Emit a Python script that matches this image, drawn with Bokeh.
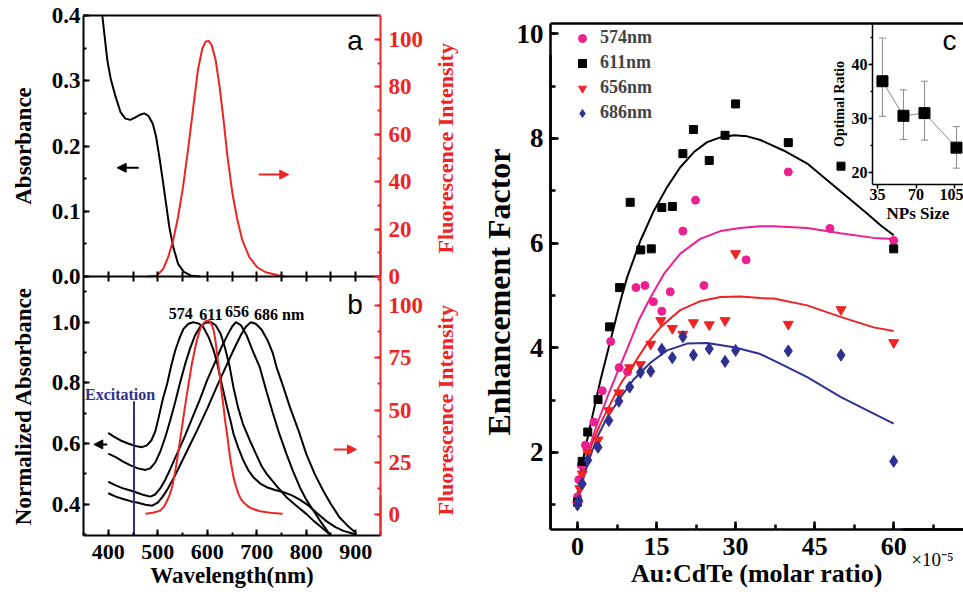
import math
from bokeh.plotting import figure
from bokeh.models import (Range1d, LinearAxis, SingleIntervalTicker, FixedTicker, PrintfTickFormatter,
                          Label, Arrow, NormalHead, Legend, LegendItem, Whisker, TeeHead,
                          ColumnDataSource)
from bokeh.layouts import row
from bokeh.embed import file_html
from bokeh.resources import INLINE

SERIF = "Liberation Serif"
SANS = "Liberation Sans"
RED = "#ee2424"
MAGENTA = "#ec2090"
BLUE = "#2e3192"

# ---------------- panel a data ----------------
a_abs_nm = [388, 392.7, 398, 404.7, 414.7, 424.7, 434.7, 444.7, 454.7, 464.7, 472.7, 481.3, 490,
            496.7, 503.3, 510, 516.7, 523.3, 531.3, 541.3, 552.7, 568, 585]
a_abs = [0.40, 0.368, 0.332, 0.304, 0.276, 0.252, 0.242, 0.240, 0.244, 0.248, 0.25, 0.246, 0.234,
         0.214, 0.183, 0.148, 0.112, 0.076, 0.045, 0.019, 0.007, 0.001, 0.0]
a_fl_nm = [478, 498, 511, 521, 531, 541, 551, 561, 571, 581, 590, 597, 603, 609, 617, 625, 633,
           641, 651, 661, 671, 685, 701, 718, 745, 758]
a_fl = [0, 0.3, 3.2, 8.2, 15.2, 25.1, 37.7, 53.2, 70.1, 87.0, 96.2, 99.2, 99.4, 97.6, 91.3, 80.0,
        65.9, 50.4, 34.9, 23.7, 15.2, 8.2, 3.9, 1.8, 0.4, 0]

# ---------------- panel b data ----------------
b574_nm = [400, 412, 425, 440, 455, 468, 478, 487, 495, 502, 510, 519, 527, 535, 544, 552, 562, 572,
           582, 592, 603, 613, 620, 626, 633, 640, 647, 653, 663, 673, 683, 693, 707, 720, 737, 753,
           770, 787, 805, 822, 840, 858, 875, 890, 900]
b574 = [0.635, 0.622, 0.61, 0.60, 0.592, 0.588, 0.594, 0.61, 0.64, 0.687, 0.745, 0.797, 0.855,
        0.905, 0.948, 0.978, 0.995, 1.0, 0.996, 0.984, 0.95, 0.907, 0.865, 0.819, 0.77, 0.72, 0.675,
        0.632, 0.585, 0.544, 0.512, 0.489, 0.468, 0.456, 0.447, 0.44, 0.43, 0.415, 0.395, 0.37,
        0.345, 0.325, 0.312, 0.305, 0.30]
b611_nm = [400, 415, 430, 445, 460, 475, 485, 495, 505, 515, 525, 535, 545, 555, 565, 575, 585, 596,
           607, 617, 627, 636, 645, 653, 662, 672, 686, 700, 710, 720, 740, 760, 780, 800, 815, 830,
           848]
b611 = [0.567, 0.555, 0.54, 0.528, 0.518, 0.513, 0.518, 0.538, 0.573, 0.62, 0.675, 0.735, 0.80,
        0.86, 0.912, 0.955, 0.983, 0.998, 1.0, 0.99, 0.962, 0.915, 0.855, 0.785, 0.72, 0.665, 0.61,
        0.56, 0.525, 0.50, 0.46, 0.423, 0.395, 0.368, 0.345, 0.325, 0.30]
b656_nm = [400, 415, 430, 445, 460, 472, 485, 495, 505, 515, 525, 540, 555, 570, 585, 600, 615, 628,
           640, 650, 658, 668, 680, 692, 706, 720, 733, 746, 760, 773, 787, 800, 814, 830, 848]
b656 = [0.474, 0.462, 0.452, 0.445, 0.437, 0.43, 0.425, 0.432, 0.452, 0.48, 0.515, 0.57, 0.625,
        0.685, 0.745, 0.81, 0.865, 0.915, 0.955, 0.985, 1.0, 0.99, 0.955, 0.905, 0.852, 0.77, 0.698,
        0.63, 0.566, 0.51, 0.456, 0.415, 0.38, 0.34, 0.30]
b686_nm = [400, 415, 430, 445, 460, 475, 489, 500, 510, 520, 535, 550, 565, 580, 600, 620, 640, 655,
           668, 678, 688, 698, 710, 722, 732, 740, 753, 767, 785, 800, 817, 834, 850, 867, 883, 898]
b686 = [0.436, 0.425, 0.417, 0.41, 0.405, 0.398, 0.395, 0.405, 0.425, 0.45, 0.495, 0.545, 0.595,
        0.645, 0.715, 0.79, 0.862, 0.915, 0.958, 0.985, 1.0, 0.995, 0.975, 0.94, 0.90, 0.852, 0.79,
        0.72, 0.64, 0.566, 0.50, 0.445, 0.40, 0.357, 0.33, 0.308]
b_fl_nm = [475, 490, 505, 513, 519, 524, 529, 534, 539, 544, 549, 554, 559, 564, 569, 574, 579, 584,
           589, 594, 599, 605, 609, 613, 616, 619, 622, 626, 629, 633, 636, 640, 643, 646, 650, 653,
           658, 663, 668, 673, 680, 687, 697, 707, 720, 733, 752]
b_fl = [0.5, 1.0, 2.0, 4.0, 6.8, 9.5, 13.2, 19.0, 26.0, 34.0, 41.9, 50.0, 57.8, 65.0, 72.2, 78.0,
        83.3, 87.5, 90.4, 92.0, 92.8, 92.5, 90.8, 88.0, 84.0, 78.5, 72.5, 65.7, 58.5, 51.4, 45.0,
        38.7, 33.0, 27.5, 22.0, 18.0, 13.5, 10.0, 7.5, 6.0, 4.5, 3.3, 2.4, 1.7, 1.2, 0.8, 0.5]
b_peak_labels = ["574", "611", "656", "686 nm"]
b_peak_label_x = [522, 584, 636, 694.5]
b_peak_label_y = [1.029, 1.024, 1.035, 1.024]
excitation_nm = [452]
excitation_top = [0.739]
wavelength_ticks = list(range(400, 901, 50))

# ---------------- panel c data ----------------
c_names = ["574nm", "611nm", "656nm", "686nm"]
c574_x = [0, 0.25, 0.7, 1.5, 3.1, 4.7, 6.3, 7.9, 9.5, 11.1, 12.8, 14.4, 16.0, 17.6, 20.0, 22.4, 24.0,
          32.0, 40.0, 47.9, 60.0]
c574_y = [1.15, 1.48, 1.76, 2.14, 2.58, 3.18, 4.12, 3.62, 3.54, 5.15, 5.19, 4.88, 4.70, 5.07, 6.23,
          6.82, 5.19, 5.68, 7.36, 6.28, 6.05]
c611_x = [0, 0.9, 1.95, 3.9, 6.1, 8.0, 10.0, 12.0, 14.0, 16.0, 18.0, 20.0, 22.0, 25.0, 28.0, 30.0,
          40.0, 50.0, 60.0]
c611_y = [1.05, 1.83, 2.39, 3.01, 4.40, 5.15, 6.78, 5.87, 5.89, 6.68, 6.70, 7.71, 8.17, 7.58, 8.06,
          8.66, 7.92, 7.47, 5.89]
c656_x = [0, 0.45, 0.9, 1.95, 3.9, 5.95, 7.85, 9.9, 11.95, 13.9, 15.8, 18.0, 20.0, 22.0, 25.0, 28.0,
          30.0, 40.0, 50.0, 60.0]
c656_y = [1.0, 1.31, 1.59, 2.0, 2.24, 2.80, 3.14, 3.62, 3.68, 4.07, 4.52, 4.37, 4.26, 4.48, 4.44,
          4.52, 5.80, 4.45, 4.73, 4.10]
c686_x = [0, 0.25, 0.9, 1.95, 3.9, 5.95, 7.85, 9.9, 11.95, 13.9, 16.0, 18.0, 20.0, 22.0, 25.0, 28.0,
          30.0, 40.0, 50.0, 60.0]
c686_y = [1.0, 1.08, 1.40, 1.85, 2.10, 2.61, 2.98, 3.25, 3.53, 3.55, 3.97, 3.81, 4.21, 3.86, 3.98,
          3.74, 3.95, 3.94, 3.86, 1.83]

fit574_x = [0, 0.89, 2.15, 3.74, 5.64, 7.53, 9.43, 11.6, 13.9, 16.4, 19.5, 23.3, 27.1, 30.9, 34.7,
            37.2, 43.6, 49.9, 56.2, 60]
fit574_y = [1.1, 1.6, 2.05, 2.55, 3.05, 3.52, 3.98, 4.52, 4.97, 5.41, 5.80, 6.08, 6.23, 6.29, 6.32,
            6.32, 6.29, 6.19, 6.10, 6.08]
fit611_x = [0, 0.57, 1.52, 2.78, 4.36, 6.26, 8.16, 9.43, 11.95, 14.5, 17.0, 19.5, 22.1, 24.6, 27.1,
            29.7, 32.2, 34.7, 39.1, 43.6, 47.4, 51.2, 55.0, 57.5, 60]
fit611_y = [1.2, 1.59, 2.10, 2.67, 3.38, 4.14, 4.90, 5.35, 6.05, 6.62, 7.07, 7.45, 7.74, 7.93, 8.02,
            8.06, 8.04, 7.97, 7.77, 7.52, 7.20, 6.88, 6.56, 6.34, 6.15]
fit656_x = [0, 0.57, 1.52, 2.78, 4.36, 6.26, 8.16, 10.7, 13.2, 15.7, 19.5, 23.3, 27.1, 30.9, 34.7,
            37.2, 43.6, 49.9, 56.2, 60]
fit656_y = [1.05, 1.40, 1.78, 2.17, 2.55, 2.93, 3.31, 3.69, 4.08, 4.39, 4.72, 4.89, 4.97, 4.98, 4.95,
            4.94, 4.81, 4.59, 4.39, 4.32]
fit686_x = [0, 0.25, 1.2, 2.15, 3.74, 5.64, 8.16, 10.7, 13.9, 17.0, 20.8, 24.6, 29.7, 34.7, 37.2,
            43.6, 49.9, 56.2, 60]
fit686_y = [1.0, 1.14, 1.53, 1.85, 2.29, 2.67, 3.05, 3.40, 3.72, 3.95, 4.08, 4.09, 4.01, 3.88, 3.76,
            3.44, 3.06, 2.74, 2.55]

# ---------------- inset data ----------------
ins_size = [39.5, 58.6, 77.7, 106.8]
ins_ratio = [36.9, 30.5, 31.0, 24.6]
ins_upper = [44.9, 35.3, 36.9, 28.5]
ins_lower = [30.4, 26.1, 26.0, 20.8]


def style(ax, color="black", tick_size="22px", label_size="23px", tin=6, mtin=3, lw=2,
          standoff=3, label_standoff=10):
    ax.axis_line_color = color
    ax.axis_line_width = lw
    ax.major_tick_line_color = color
    ax.minor_tick_line_color = color
    ax.major_tick_line_width = lw
    ax.minor_tick_line_width = lw
    ax.major_tick_in = tin
    ax.major_tick_out = 0
    ax.minor_tick_in = mtin
    ax.minor_tick_out = 0
    ax.major_label_text_color = color
    ax.major_label_text_font = SERIF
    ax.major_label_text_font_style = "bold"
    ax.major_label_text_font_size = tick_size
    ax.major_label_standoff = standoff
    ax.axis_label_text_color = color
    ax.axis_label_text_font = SERIF
    ax.axis_label_text_font_style = "bold"
    ax.axis_label_text_font_size = label_size
    ax.axis_label_standoff = label_standoff


def make_fig(**kw):
    # the frame fills the whole canvas; the visible box is drawn by bounded axes
    return figure(output_backend="svg", toolbar_location=None, outline_line_color=None,
                  x_axis_type=None, y_axis_type=None, background_fill_color="white",
                  min_border_left=0, min_border_right=0, min_border_top=0, min_border_bottom=0, **kw)


# ================= panels a + b =================
XL, XR = 350, 950
pab = make_fig(width=470, height=600, x_range=Range1d(182.32, 1131.82), y_range=Range1d(0.08243, 2.0607))
pab.extra_y_ranges = {"a": Range1d(-0.49655, 0.42299), "afl": Range1d(-136.71, 116.46),
                      "bfl": Range1d(-40.95, 245.72)}
A_LO, A_HI = 0.0, 0.4
AFL_LO, AFL_HI = 0.0, 110.13
B_LO, B_HI = 0.29674, 1.15068
BFL_LO, BFL_HI = -9.89, 113.86

ax = LinearAxis(y_range_name="a", fixed_location=XL, bounds=(A_LO, A_HI), axis_label="Absorbance",
                ticker=SingleIntervalTicker(interval=0.1, num_minor_ticks=2),
                formatter=PrintfTickFormatter(format="%.1f"))
style(ax, tick_size="23px", label_standoff=13)
pab.add_layout(ax, "left")
ax = LinearAxis(fixed_location=XL, bounds=(B_LO, B_HI), axis_label="Normalized Absorbance",
                ticker=SingleIntervalTicker(interval=0.2, num_minor_ticks=2),
                formatter=PrintfTickFormatter(format="%.1f"))
style(ax, tick_size="23px", label_standoff=13)
pab.add_layout(ax, "left")
ax = LinearAxis(y_range_name="afl", fixed_location=XR, bounds=(AFL_LO, AFL_HI),
                ticker=SingleIntervalTicker(interval=20, num_minor_ticks=2))
style(ax, color=RED, tick_size="23px", standoff=8)
pab.add_layout(ax, "right")
ax = LinearAxis(y_range_name="bfl", fixed_location=XR, bounds=(BFL_LO, BFL_HI),
                ticker=SingleIntervalTicker(interval=25, num_minor_ticks=2))
style(ax, color=RED, tick_size="23px", standoff=8)
pab.add_layout(ax, "right")
for rng, bnds in [("afl", (0, 19.41)), ("bfl", (-9.89, 9.23))]:
    ax = LinearAxis(y_range_name=rng, fixed_location=XR, bounds=bnds, axis_label="Fluorescence Intensity",
                    ticker=FixedTicker(ticks=[]))
    style(ax, color=RED, label_size="22px", label_standoff=65)
    ax.axis_label_orientation = math.pi / 2
    pab.add_layout(ax, "right")
ax = LinearAxis(fixed_location=B_LO, bounds=(XL, XR), axis_label="Wavelength(nm)",
                ticker=SingleIntervalTicker(interval=100, num_minor_ticks=2))
style(ax, standoff=9, label_standoff=1)
pab.add_layout(ax, "below")
ax = LinearAxis(y_range_name="a", fixed_location=A_LO, bounds=(XL, XR),
                ticker=FixedTicker(ticks=[], minor_ticks=wavelength_ticks))
style(ax, mtin=5)
ax.minor_tick_out = 5
pab.add_layout(ax, "below")
ax = LinearAxis(y_range_name="a", fixed_location=A_HI, bounds=(XL, XR), ticker=FixedTicker(ticks=[]))
style(ax, tin=0, mtin=0)
pab.add_layout(ax, "above")

pab.line(a_abs_nm, a_abs, line_color="black", line_width=2, y_range_name="a")
pab.line(a_fl_nm, a_fl, line_color=RED, line_width=2, y_range_name="afl")
pab.add_layout(Arrow(end=NormalHead(size=9, fill_color="black", line_color="black"),
                     x_start=461.7, y_start=0.1666, x_end=418, y_end=0.1666,
                     line_color="black", line_width=2, y_range_name="a"))
pab.add_layout(Arrow(end=NormalHead(size=9, fill_color=RED, line_color=RED),
                     x_start=704, y_start=43, x_end=764.7, y_end=43,
                     line_color=RED, line_width=2, y_range_name="afl"))
pab.add_layout(Label(x=883, y=0.3617, text="a", text_font=SANS, text_font_size="28px",
                     text_color="black", text_baseline="alphabetic", y_range_name="a"))

for xs, ys in [(b574_nm, b574), (b611_nm, b611), (b656_nm, b656), (b686_nm, b686)]:
    pab.line(xs, ys, line_color="black", line_width=2)
pab.line(b_fl_nm, b_fl, line_color=RED, line_width=2, y_range_name="bfl")
pab.segment(x0=excitation_nm, y0=[B_LO], x1=excitation_nm, y1=excitation_top,
            line_color=BLUE, line_width=2)
pab.add_layout(Label(x=353, y=0.761, text="Excitation", text_font=SERIF, text_font_style="bold",
                     text_font_size="16px", text_color=BLUE, text_baseline="alphabetic"))
for t, x, y in zip(b_peak_labels, b_peak_label_x, b_peak_label_y):
    pab.add_layout(Label(x=x, y=y, text=t, text_font=SERIF, text_font_style="bold",
                         text_font_size="16px", text_color="black", text_baseline="alphabetic"))
pab.add_layout(Arrow(end=NormalHead(size=9, fill_color="black", line_color="black"),
                     x_start=397.9, y_start=0.597, x_end=370.8, y_end=0.597,
                     line_color="black", line_width=2))
pab.add_layout(Arrow(end=NormalHead(size=9, fill_color=RED, line_color=RED),
                     x_start=855.7, y_start=31.2, x_end=901.5, y_end=31.2,
                     line_color=RED, line_width=2, y_range_name="bfl"))
pab.add_layout(Label(x=883, y=1.0584, text="b", text_font=SANS, text_font_size="28px",
                     text_color="black", text_baseline="alphabetic"))

# ================= panel c =================
CX0, CX1 = -5.12, 73.245
CY0, CY1 = 0.527, 10.197
pc = make_fig(width=493, height=600, x_range=Range1d(-20.30, 73.245), y_range=Range1d(-0.829, 10.636))
pc.extra_x_ranges = {"ix": Range1d(-335.0, 113.18)}
pc.extra_y_ranges = {"iy": Range1d(-59.26, 51.85)}

ax = LinearAxis(fixed_location=CX0, bounds=(CY0, CY1),
                ticker=SingleIntervalTicker(interval=2, num_minor_ticks=2))
style(ax, tick_size="27px", tin=8, mtin=5, lw=2.5, standoff=7)
pc.add_layout(ax, "left")
ax = LinearAxis(fixed_location=CX0, bounds=(CY0, 9.605), axis_label="Enhancement Factor",
                ticker=FixedTicker(ticks=[]))
style(ax, label_size="32px", lw=2.5, label_standoff=34)
pc.add_layout(ax, "left")
ax = LinearAxis(fixed_location=CY0, bounds=(CX0, CX1), axis_label="Au:CdTe (molar ratio)",
                ticker=SingleIntervalTicker(interval=15, num_minor_ticks=2))
style(ax, tick_size="26px", label_size="26px", tin=8, mtin=5, lw=2.5, standoff=8, label_standoff=1)
pc.add_layout(ax, "below")
ax = LinearAxis(fixed_location=CY0, bounds=(61.5, CX1), axis_label="\u00d710\u207b\u2075",
                ticker=FixedTicker(ticks=[]))
style(ax, lw=2.5, label_size="19px", label_standoff=19)
ax.axis_label_text_font_style = "normal"
pc.add_layout(ax, "below")
ax = LinearAxis(fixed_location=CY1, bounds=(CX0, CX1), ticker=FixedTicker(ticks=[]))
style(ax, tin=0, mtin=0, lw=2.5)
pc.add_layout(ax, "above")

pc.line(fit611_x, fit611_y, line_color="black", line_width=2)
pc.line(fit574_x, fit574_y, line_color=MAGENTA, line_width=2)
pc.line(fit656_x, fit656_y, line_color=RED, line_width=2)
pc.line(fit686_x, fit686_y, line_color=BLUE, line_width=2)
r574 = pc.scatter(c574_x, c574_y, marker="circle", size=8, color=MAGENTA)
r611 = pc.scatter(c611_x, c611_y, marker="square", size=8, color="black")
r656 = pc.scatter(c656_x, c656_y, marker="inverted_triangle", size=10, color=RED)
r686 = pc.scatter(c686_x, c686_y, marker="diamond", size=12, color=BLUE)
legend = Legend(items=[LegendItem(label=n, renderers=[r]) for n, r in zip(c_names, [r574, r611, r656, r686])],
                location=(102, 477), padding=0, spacing=4, glyph_width=20, glyph_height=20,
                label_height=20, label_standoff=8, border_line_color=None, background_fill_alpha=0,
                label_text_font=SERIF, label_text_font_style="bold", label_text_font_size="18px")
pc.add_layout(legend)

# inset (own coordinate system inside the same frame)
IX0, IX1 = 30.45, 113.18
IY0, IY1 = 17.78, 47.59
ax = LinearAxis(x_range_name="ix", y_range_name="iy", fixed_location=IX0, bounds=(IY0, IY1),
                axis_label="Optimal Ratio", ticker=SingleIntervalTicker(interval=10, num_minor_ticks=2))
style(ax, tick_size="16px", label_size="14px", lw=1.5, standoff=1, label_standoff=2)
ax.major_tick_in = 0
ax.major_tick_out = 4
ax.minor_tick_in = 0
ax.minor_tick_out = 2
pc.add_layout(ax, "left")
ax = LinearAxis(x_range_name="ix", y_range_name="iy", fixed_location=IY0, bounds=(IX0, IX1),
                axis_label="NPs Size", ticker=SingleIntervalTicker(interval=35, num_minor_ticks=0))
style(ax, tick_size="16px", label_size="17px", lw=1.5, standoff=1, label_standoff=0)
ax.major_tick_in = 0
ax.major_tick_out = 4
pc.add_layout(ax, "below")
src = ColumnDataSource(dict(x=ins_size, y=ins_ratio, up=ins_upper, lo=ins_lower))
pc.add_layout(Whisker(source=src, base="x", upper="up", lower="lo", line_color="#8a8a8a", line_width=1,
                      x_range_name="ix", y_range_name="iy",
                      upper_head=TeeHead(size=7, line_color="#8a8a8a", line_width=1),
                      lower_head=TeeHead(size=7, line_color="#8a8a8a", line_width=1)))
pc.line("x", "y", source=src, line_color="#8a8a8a", line_width=1, x_range_name="ix", y_range_name="iy")
pc.scatter("x", "y", source=src, marker="square", size=11, color="black", x_range_name="ix", y_range_name="iy")
pc.add_layout(Label(x=69.26, y=9.872, text="c", text_font=SANS, text_font_size="28px",
                    text_color="black", text_baseline="alphabetic"))

layout = row(pab, pc)
open("out.html", "w").write(file_html(layout, INLINE))
